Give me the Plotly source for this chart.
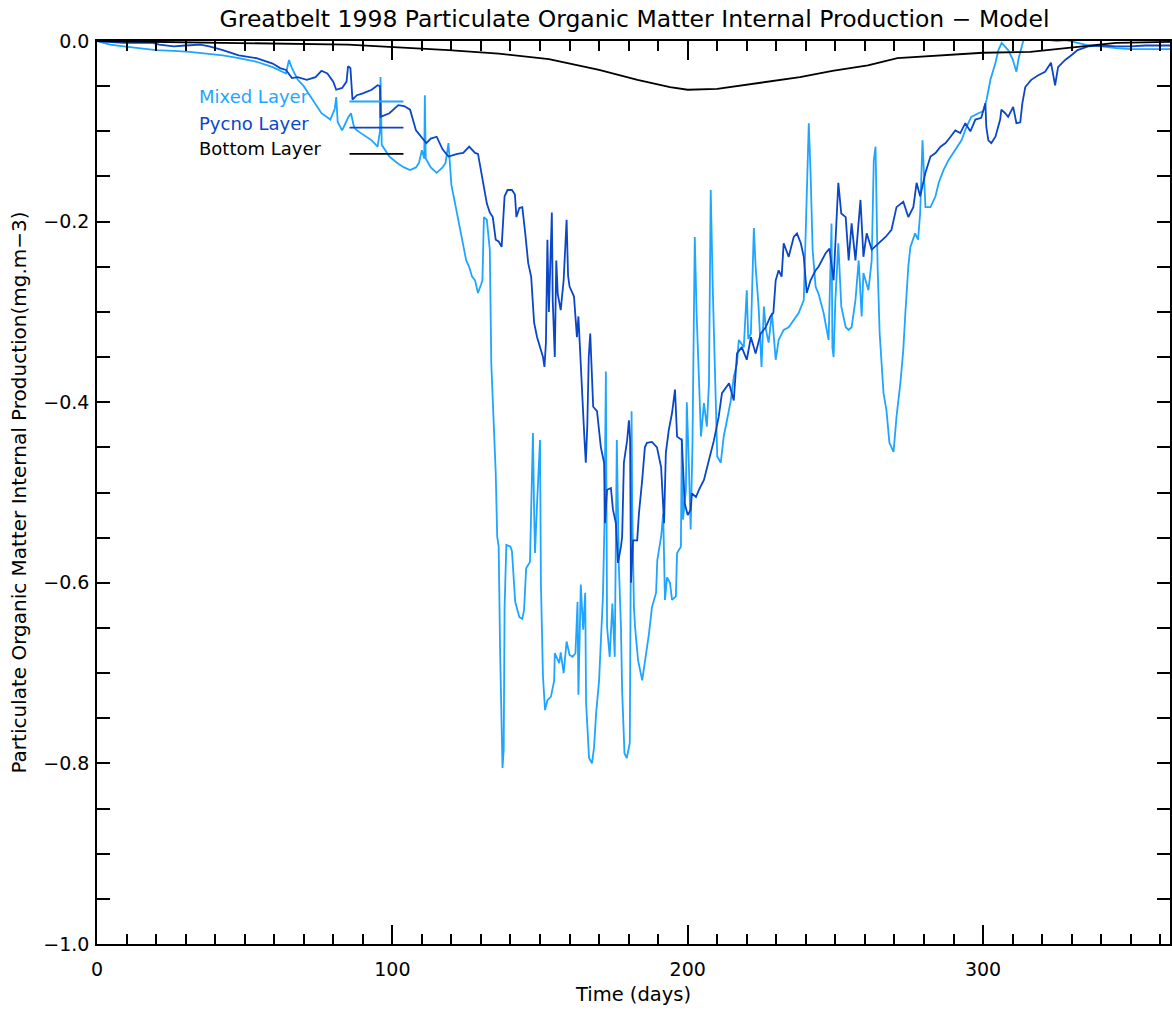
import plotly.graph_objects as go

# ---------------- data ----------------
mixed_day = [0, 4.4, 9, 14.5, 20, 26, 31.4, 37, 42.6, 48, 54, 59.5, 64, 65, 66, 68, 70, 72, 74, 76, 79,
             80.5, 81, 81.5, 83, 85, 86, 87, 88, 91, 93, 95, 95.8, 96, 96.4, 99, 102, 104, 106, 108, 109,
             110, 110.8, 111, 111.3, 113, 115, 117, 118, 119, 119.5, 120, 121, 123, 124, 125, 126, 127,
             128, 129, 130, 130.5, 131, 132, 132.5, 133, 133.5, 134, 134.5, 135, 135.5, 136, 136.5, 137,
             137.3, 137.7, 138, 138.6, 140, 140.5, 141, 141.6, 143, 144, 144.6, 145.3, 146.6, 147.3,
             147.6, 148, 148.3, 149, 149.7, 150, 150.3, 151, 151.7, 152.5, 153.7, 154.8, 155, 156.5, 157,
             158, 159, 160, 161, 162, 162.7, 163, 163.8, 164.6, 165.3, 165.6, 166.6, 167.6, 168.3, 169,
             170, 171, 171.3, 171.8, 172.3, 172.7, 173.6, 174.5, 175.3, 176, 176.7, 177.4, 177.8, 178.6,
             179.4, 180.4, 180.8, 181.0, 181.2, 181.8, 182.2, 183.2, 184.6, 185.9, 186.9, 187.9, 189.3,
             189.7, 191, 191.7, 192.3, 193, 194, 194.7, 196, 196.4, 197.7, 198, 198.4, 199.4, 199.7,
             200.4, 201, 201.6, 202.4, 203, 203.8, 204.5, 205.5, 206.5, 207.2, 207.8, 208.5, 209.2, 210,
             211.2, 212.2, 213.3, 214.6, 215.6, 216.7, 217.3, 219, 220, 220.5, 221.4, 222.4, 223, 224,
             225, 225.8, 226.5, 227.4, 228.5, 229.8, 230.8, 232.5, 234.2, 235.9, 237.6, 239.3, 240.3,
             241, 241.6, 242.3, 243.3, 244.3, 246, 247.7, 248.7, 249.0, 249.4, 250, 251, 252, 253.5,
             254.5, 255.5, 256.8, 257.9, 258.9, 259.5, 261.2, 262.3, 263, 263.6, 264.3, 265, 265.6,
             266.3, 267.3, 268.3, 269.7, 270.7, 272, 273, 273.7, 274.7, 275.4, 277, 278, 278.7, 279.5,
             280.5, 282.2, 283.9, 285, 286.6, 288.3, 290.6, 292.7, 294.4, 296, 298.4, 300, 301.2, 302.5,
             304.2, 305.2, 306.3, 308.5, 310, 311.3, 312, 313.6, 315, 320, 325, 328, 332, 336, 340, 345,
             350, 355, 360, 363.3]
mixed_val = [0.0, -0.004, -0.006, -0.008, -0.010, -0.011, -0.012, -0.014, -0.016, -0.019, -0.023, -0.029,
             -0.036, -0.021, -0.030, -0.043, -0.050, -0.060, -0.070, -0.080, -0.087, -0.075, -0.062,
             -0.090, -0.099, -0.085, -0.080, -0.095, -0.099, -0.106, -0.110, -0.117, -0.100, -0.040,
             -0.115, -0.128, -0.136, -0.140, -0.143, -0.140, -0.135, -0.121, -0.130, -0.060, -0.130,
             -0.140, -0.146, -0.140, -0.135, -0.113, -0.135, -0.160, -0.176, -0.210, -0.230, -0.243,
             -0.250, -0.261, -0.265, -0.279, -0.270, -0.265, -0.195, -0.198, -0.215, -0.231, -0.357,
             -0.400, -0.430, -0.478, -0.549, -0.560, -0.678, -0.782, -0.805, -0.785, -0.627, -0.558,
             -0.560, -0.565, -0.586, -0.621, -0.638, -0.640, -0.630, -0.584, -0.577, -0.475, -0.434,
             -0.520, -0.567, -0.512, -0.464, -0.442, -0.600, -0.704, -0.741, -0.730, -0.726, -0.708,
             -0.678, -0.689, -0.677, -0.700, -0.665, -0.680, -0.682, -0.678, -0.621, -0.724, -0.602,
             -0.652, -0.611, -0.733, -0.794, -0.800, -0.782, -0.744, -0.708, -0.638, -0.615, -0.538,
             -0.366, -0.649, -0.682, -0.623, -0.682, -0.442, -0.582, -0.649, -0.719, -0.789, -0.794,
             -0.777, -0.600, -0.410, -0.512, -0.627, -0.650, -0.686, -0.708, -0.678, -0.656, -0.627,
             -0.611, -0.575, -0.549, -0.523, -0.619, -0.594, -0.600, -0.619, -0.615, -0.567, -0.560,
             -0.440, -0.530, -0.497, -0.400, -0.470, -0.541, -0.450, -0.217, -0.300, -0.386, -0.438,
             -0.401, -0.427, -0.379, -0.165, -0.276, -0.379, -0.460, -0.467, -0.438, -0.420, -0.398,
             -0.372, -0.357, -0.331, -0.339, -0.276, -0.330, -0.324, -0.207, -0.250, -0.294, -0.361,
             -0.294, -0.320, -0.334, -0.301, -0.353, -0.331, -0.320, -0.317, -0.309, -0.301, -0.287,
             -0.176, -0.091, -0.146, -0.231, -0.272, -0.280, -0.301, -0.331, -0.202, -0.340, -0.350,
             -0.287, -0.224, -0.294, -0.317, -0.320, -0.317, -0.287, -0.243, -0.305, -0.257, -0.276,
             -0.243, -0.132, -0.117, -0.250, -0.324, -0.361, -0.390, -0.409, -0.445, -0.455, -0.416,
             -0.379, -0.342, -0.301, -0.250, -0.228, -0.213, -0.220, -0.191, -0.110, -0.184, -0.184,
             -0.172, -0.157, -0.143, -0.132, -0.121, -0.110, -0.095, -0.084, -0.080, -0.078, -0.065,
             -0.043, -0.024, -0.010, -0.002, -0.010, -0.020, -0.034, -0.020, 0.0, 0.003, 0.002, 0.0,
             0.001, -0.002, -0.005, -0.006, -0.008, -0.009, -0.009, -0.009, -0.009]

pycno_day = [0, 9, 14.5, 19, 21, 26, 30, 35, 38, 42.6, 48, 54, 59.5, 62, 64, 66, 68, 71, 74, 76, 78, 80,
             81, 83, 84.5, 85, 85.8, 86.5, 88, 90, 93, 95, 95.8, 96, 99, 102, 104, 106, 108, 111.5, 113,
             115, 117, 119, 122, 124, 126, 128, 129, 130.5, 132, 133, 134, 135, 136, 137, 138, 139,
             140.5, 141.5, 142, 143, 144, 145, 146, 147, 148, 149, 150, 151, 151.5, 152, 152.5, 153, 154,
             154.3, 155, 155.5, 156, 157, 158, 159, 159.5, 160, 161.5, 162.5, 163, 164, 165, 165.5, 166,
             166.5, 167, 168, 169.3, 170.6, 171.7, 172, 172.7, 174, 174.7, 175.7, 176.4, 177.4, 177.8,
             178.4, 179.5, 180.1, 180.5, 180.8, 181.5, 182.9, 183.5, 184.6, 185.5, 186.2, 187.9, 189.6,
             191, 192, 192.6, 193.6, 194.7, 195.7, 196.4, 198, 199, 200, 201, 201.4, 202.8, 203.8,
             205.5, 207.2, 208.9, 210.5, 211.6, 214, 215.6, 216.7, 218.3, 220, 221.4, 223, 224.7, 226.4,
             228, 229, 229.8, 230.8, 231.8, 232.5, 234.2, 235.9, 237, 238.3, 239.3, 240.3, 241.6, 243.3,
             244.3, 246.7, 248, 249.4, 250.2, 251, 252, 253.5, 254.5, 255.5, 256.8, 258.5, 259.5, 260.6,
             262.3, 264.6, 267, 269, 270.7, 273, 274.7, 276.4, 277.5, 278.7, 280.5, 282.2, 283.9, 285.6,
             287.3, 289, 290.6, 292.3, 294, 295.7, 297.4, 299.4, 300.8, 301.1, 301.8, 302.8, 304.2,
             305.8, 306.2, 307.5, 308.5, 310.2, 311.3, 312.6, 313.3, 314.3, 316.3, 318.7, 321, 323,
             324.4, 325.4, 327.8, 329.8, 332, 335.6, 340, 345, 350, 355, 360, 363.3]
pycno_val = [0.0, -0.002, -0.002, -0.002, -0.004, -0.006, -0.005, -0.004, -0.006, -0.010, -0.016, -0.019,
             -0.025, -0.030, -0.032, -0.041, -0.040, -0.043, -0.040, -0.033, -0.036, -0.045, -0.054,
             -0.052, -0.045, -0.028, -0.030, -0.065, -0.060, -0.058, -0.054, -0.049, -0.050, -0.084,
             -0.080, -0.071, -0.072, -0.076, -0.099, -0.113, -0.108, -0.106, -0.120, -0.128, -0.125,
             -0.124, -0.117, -0.124, -0.125, -0.151, -0.180, -0.190, -0.195, -0.220, -0.222, -0.228,
             -0.172, -0.165, -0.165, -0.170, -0.195, -0.185, -0.184, -0.213, -0.246, -0.261, -0.312,
             -0.328, -0.340, -0.350, -0.361, -0.334, -0.220, -0.300, -0.190, -0.287, -0.350, -0.243,
             -0.280, -0.298, -0.265, -0.198, -0.260, -0.272, -0.283, -0.328, -0.305, -0.379, -0.438,
             -0.467, -0.427, -0.350, -0.324, -0.405, -0.410, -0.450, -0.467, -0.534, -0.497, -0.495,
             -0.519, -0.534, -0.578, -0.560, -0.549, -0.467, -0.442, -0.420, -0.442, -0.600, -0.553,
             -0.553, -0.523, -0.486, -0.450, -0.445, -0.444, -0.450, -0.472, -0.534, -0.456, -0.431,
             -0.412, -0.386, -0.438, -0.442, -0.512, -0.525, -0.519, -0.501, -0.505, -0.497, -0.486,
             -0.464, -0.442, -0.416, -0.390, -0.379, -0.398, -0.346, -0.339, -0.353, -0.328, -0.346,
             -0.324, -0.317, -0.305, -0.301, -0.265, -0.254, -0.261, -0.224, -0.239, -0.217, -0.213,
             -0.224, -0.239, -0.279, -0.265, -0.254, -0.250, -0.235, -0.230, -0.265, -0.210, -0.157,
             -0.191, -0.195, -0.243, -0.202, -0.243, -0.176, -0.239, -0.213, -0.231, -0.224, -0.217,
             -0.209, -0.184, -0.178, -0.195, -0.184, -0.157, -0.172, -0.146, -0.128, -0.124, -0.117,
             -0.113, -0.106, -0.099, -0.102, -0.091, -0.100, -0.087, -0.085, -0.069, -0.095, -0.110,
             -0.113, -0.106, -0.087, -0.076, -0.080, -0.084, -0.073, -0.091, -0.090, -0.069, -0.051,
             -0.043, -0.038, -0.034, -0.024, -0.049, -0.029, -0.021, -0.016, -0.010, -0.006, -0.005,
             -0.006, -0.006, -0.005, -0.005, -0.005]

bottom_day = [0, 52, 85, 102, 119, 136, 153, 170, 183, 194, 200, 210, 221, 238, 249, 261, 271, 288,
              300, 316, 328, 336, 345, 363.3]
bottom_val = [0.0, -0.002, -0.004, -0.007, -0.010, -0.014, -0.020, -0.032, -0.043, -0.051, -0.054,
              -0.053, -0.048, -0.040, -0.033, -0.027, -0.019, -0.015, -0.013, -0.012, -0.008, -0.005,
              -0.002, -0.001]

series_names = ["Mixed Layer", "Pycno Layer", "Bottom Layer"]
series_colors = ["#1ea5ff", "#0a46c8", "#000000"]

title_text = "Greatbelt 1998 Particulate Organic Matter Internal Production \u2212 Model"
x_title = "Time (days)"
y_title = "Particulate Organic Matter Internal Production(mg.m\u22123)"
x_range = [0, 363.3]
y_range = [-1.0, 0.0]

# ---------------- figure ----------------
W, H = 1172, 1012
ML, MR, MT, MB = 97, 0, 41, 68
FONT = "DejaVu Sans"

fig = go.Figure()
for d, v, name, col in zip([mixed_day, pycno_day, bottom_day],
                           [mixed_val, pycno_val, bottom_val],
                           series_names, series_colors):
    fig.add_trace(go.Scatter(x=d, y=v, mode="lines", name=name,
                             line=dict(color=col, width=1.8), showlegend=False))

# in-plot legend: text followed by a short line sample
leg_text_y = [0.938, 0.909, 0.881]
leg_line_y = [0.933, 0.904, 0.875]
for name, col, ty, ly in zip(series_names, series_colors, leg_text_y, leg_line_y):
    fig.add_annotation(x=0.093, y=ty, xref="paper", yref="paper", text=name,
                       showarrow=False, xanchor="left", yanchor="middle",
                       font=dict(family=FONT, size=18, color=col))
    fig.add_shape(type="line", xref="paper", yref="paper", x0=0.2353, x1=0.2856,
                  y0=ly, y1=ly, line=dict(color=col, width=1.8))

fig.update_layout(
    width=W, height=H,
    margin=dict(l=ML, r=MR, t=MT, b=MB, pad=0),
    paper_bgcolor="white", plot_bgcolor="white",
    font=dict(family=FONT, size=19, color="black"),
    title=dict(text=title_text, x=(ML + (W - ML) / 2) / W, xanchor="center",
               y=1 - 19 / H, yanchor="middle", font=dict(family=FONT, size=23.5)),
)
fig.update_xaxes(range=x_range, showgrid=False, zeroline=False,
                 showline=True, linecolor="black", linewidth=1.5, mirror="ticks",
                 ticks="inside", ticklen=19, tickwidth=1.5, tickcolor="black",
                 tick0=0, dtick=100, ticklabelstandoff=7,
                 minor=dict(ticks="inside", dtick=10, ticklen=10, tickwidth=1.5,
                            tickcolor="black", showgrid=False),
                 title=dict(text=x_title, standoff=9, font=dict(size=19.5)))
fig.update_yaxes(range=y_range, showgrid=False, zeroline=False,
                 showline=True, linecolor="black", linewidth=1.5, mirror="ticks",
                 ticks="inside", ticklen=13, tickwidth=1.5, tickcolor="black",
                 tick0=0, dtick=0.2, tickformat=".1f", ticklabelstandoff=2,
                 minor=dict(ticks="inside", dtick=0.05, ticklen=13, tickwidth=1.5,
                            tickcolor="black", showgrid=False),
                 title=dict(text=y_title, standoff=11, font=dict(size=20)))

# remove the default page margin so the figure sits at the window's top-left corner
page_fix = "document.body.style.margin='0';document.body.style.overflow='hidden';"
fig.write_html("out.html", post_script=page_fix, config={"displayModeBar": False})
